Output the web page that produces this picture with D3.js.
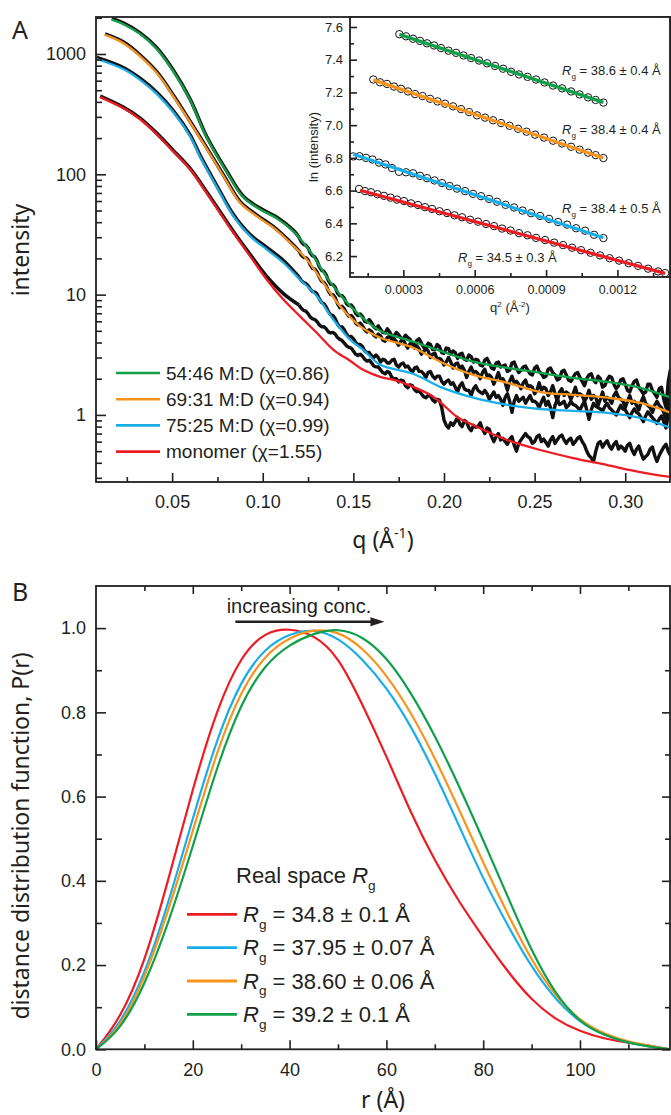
<!DOCTYPE html>
<html>
<head>
<meta charset="utf-8">
<script src="https://cdn.jsdelivr.net/npm/d3@7"></script>
<style>
  body { margin: 0; background: #fff; }
</style>
</head>
<body>
<svg id="fig" width="671" height="1115"></svg>
<script>
// ---------- panel A : scattering profiles, q (1/Å) vs intensity ----------
var legendA = ["54:46 M:D (\u03c7=0.86)", "69:31 M:D (\u03c7=0.94)", "75:25 M:D (\u03c7=0.99)", "monomer (\u03c7=1.55)"];

// fitted curves
var fitQGreen = [0.0167, 0.0230, 0.0323, 0.0416, 0.0506, 0.0599, 0.0692, 0.0802, 0.0893, 0.0986, 0.1078, 0.1169, 0.1262, 0.1354, 0.1445, 0.1538, 0.1648, 0.1830, 0.1979, 0.2161, 0.2349, 0.2531, 0.2713, 0.2901, 0.3083, 0.3254];
var fitIGreen = [1931, 1778, 1468, 1101, 721, 414, 200, 104, 64.3, 51.1, 43.0, 33.5, 22.8, 13.9, 9.26, 6.68, 5.01, 4.06, 3.41, 2.77, 2.46, 2.24, 2.03, 1.88, 1.68, 1.39];
var fitQOrange = [0.0130, 0.0230, 0.0323, 0.0416, 0.0506, 0.0599, 0.0692, 0.0783, 0.0875, 0.0967, 0.1059, 0.1151, 0.1243, 0.1335, 0.1427, 0.1538, 0.1648, 0.1830, 0.1979, 0.2161, 0.2349, 0.2531, 0.2713, 0.2901, 0.3083, 0.3254];
var fitIOrange = [1440, 1235, 962, 695, 447, 271, 162, 96.8, 58.1, 44.9, 36.0, 27.0, 19.6, 12.5, 7.99, 5.44, 4.38, 3.62, 2.77, 2.15, 1.85, 1.55, 1.47, 1.39, 1.26, 1.04];
var fitQBlue = [0.0084, 0.0230, 0.0323, 0.0416, 0.0506, 0.0599, 0.0655, 0.0747, 0.0838, 0.0930, 0.1023, 0.1114, 0.1206, 0.1299, 0.1390, 0.1482, 0.1554, 0.1648, 0.1830, 0.1979, 0.2161, 0.2349, 0.2531, 0.2713, 0.2901, 0.3083, 0.3254];
var fitIBlue = [909, 750, 610, 464, 329, 207, 139, 77.9, 44.9, 30.6, 23.7, 18.4, 13.3, 9.68, 6.19, 4.22, 3.48, 2.61, 2.20, 1.71, 1.39, 1.21, 1.12, 1.08, 1.04, 0.944, 0.779];
var fitQRed = [0.0103, 0.0230, 0.0323, 0.0416, 0.0506, 0.0599, 0.0692, 0.0838, 0.0930, 0.1023, 0.1114, 0.1206, 0.1299, 0.1390, 0.1482, 0.1554, 0.1648, 0.1742, 0.1830, 0.1924, 0.1979, 0.2073, 0.2161, 0.2255, 0.2349, 0.2531, 0.2713, 0.2901, 0.3083, 0.3254];
var fitIRed = [438, 355, 287, 215, 155, 110, 69.5, 32.7, 20.9, 13.3, 9.09, 6.59, 4.80, 3.48, 2.82, 2.37, 2.07, 1.92, 1.71, 1.47, 1.28, 0.962, 0.825, 0.708, 0.619, 0.511, 0.438, 0.383, 0.335, 0.304];

// measured data, smooth low-q part
var lowQGreen = [0.0167, 0.0230, 0.0323, 0.0416, 0.0506, 0.0599, 0.0692, 0.0802, 0.0893, 0.0986, 0.1078, 0.1169];
var lowIGreen = [1970, 1814, 1497, 1123, 735, 422, 204, 106, 65.6, 52.1, 43.9, 34.2];
var lowQOrange = [0.0130, 0.0230, 0.0323, 0.0416, 0.0506, 0.0599, 0.0692, 0.0783, 0.0875, 0.0967, 0.1059, 0.1151];
var lowIOrange = [1469, 1260, 981, 709, 456, 276, 165, 98.7, 59.3, 45.8, 36.7, 27.5];
var lowQBlue = [0.0084, 0.0230, 0.0323, 0.0416, 0.0506, 0.0599, 0.0655, 0.0747, 0.0838, 0.0930, 0.1023, 0.1114];
var lowIBlue = [936, 772, 628, 478, 339, 213, 143, 80.2, 46.2, 31.5, 24.6, 19.2];
var lowQRed = [0.0103, 0.0230, 0.0323, 0.0416, 0.0506, 0.0599, 0.0692, 0.0838, 0.0930, 0.1023, 0.1114];
var lowIRed = [447, 362, 293, 219, 158, 112, 71, 33.5, 21.6, 14.1, 10.2];

// measured data, noisy high-q part: main samples ...
var noisyQ = [0.1200, 0.1225, 0.1250, 0.1275, 0.1300, 0.1325, 0.1350, 0.1375, 0.1400, 0.1425,
  0.1450, 0.1475, 0.1500, 0.1525, 0.1550, 0.1575, 0.1600, 0.1625, 0.1650, 0.1675,
  0.1700, 0.1725, 0.1750, 0.1775, 0.1800, 0.1825, 0.1850, 0.1875, 0.1900, 0.1925,
  0.1950, 0.1975, 0.2000, 0.2025, 0.2050, 0.2075, 0.2100, 0.2125, 0.2150, 0.2175,
  0.2200, 0.2225, 0.2250, 0.2275, 0.2300, 0.2325, 0.2350, 0.2375, 0.2400, 0.2425,
  0.2450, 0.2475, 0.2500, 0.2525, 0.2550, 0.2575, 0.2600, 0.2625, 0.2650, 0.2675,
  0.2700, 0.2725, 0.2750, 0.2775, 0.2800, 0.2825, 0.2850, 0.2875, 0.2900, 0.2925,
  0.2950, 0.2975, 0.3000, 0.3025, 0.3050, 0.3075, 0.3100, 0.3125, 0.3150, 0.3175,
  0.3200, 0.3225, 0.3250];
var noisyGreen = [30.0, 26.2, 24.5, 21.0, 19.1, 15.9, 14.6, 12.2, 11.5, 9.8,
  9.3, 8.1, 7.8, 6.7, 6.6, 5.9, 5.85, 5.2, 5.15, 4.8,
  4.9, 4.55, 4.65, 4.3, 4.4, 3.9, 4.15, 3.95, 3.6, 3.85,
  3.5, 3.7, 3.25, 3.55, 3.4, 2.95, 3.25, 2.85, 3.05, 2.9,
  2.6, 2.85, 2.7, 2.4, 2.75, 2.55, 2.3, 2.7, 2.45, 2.35,
  2.55, 2.2, 2.45, 2.3, 2.05, 2.4, 2.25, 1.95, 2.3, 2.15,
  1.9, 2.2, 2.05, 1.75, 2.15, 1.95, 2.1, 1.7, 1.95, 2.05,
  1.65, 1.95, 1.8, 1.55, 1.9, 1.7, 1.5, 1.8, 1.6, 1.4,
  1.7, 1.15, 2.4];
var noisyOrange = [23.1, 20.4, 19.5, 16.5, 15.4, 12.9, 11.9, 10.0, 9.4, 7.8,
  7.6, 6.6, 6.4, 5.6, 5.5, 4.9, 4.95, 4.45, 4.55, 4.1,
  4.5, 4.3, 3.8, 4.25, 3.6, 3.95, 3.75, 3.2, 3.6, 3.0,
  3.25, 2.95, 2.6, 3.0, 2.45, 2.7, 2.55, 2.05, 2.5, 2.3,
  2.0, 2.4, 2.15, 1.8, 2.25, 2.0, 1.6, 2.1, 1.9, 1.65,
  1.95, 1.75, 1.5, 1.85, 1.7, 1.45, 1.75, 1.3, 1.65, 1.55,
  1.35, 1.7, 1.5, 1.3, 1.6, 1.45, 1.2, 1.55, 1.4, 1.25,
  1.55, 1.35, 1.15, 1.45, 1.3, 1.1, 1.42, 1.2, 1.05, 1.3,
  1.15, 0.92, 1.7];
var noisyBlue = [14.0, 12.6, 11.9, 10.6, 10.1, 8.6, 7.9, 6.8, 6.3, 5.35,
  5.1, 4.45, 4.3, 3.85, 3.7, 3.3, 3.1, 3.15, 2.75, 2.85,
  2.7, 2.9, 2.5, 2.7, 2.55, 2.25, 2.5, 2.3, 2.05, 2.3,
  2.0, 2.1, 1.8, 1.95, 1.85, 1.55, 1.85, 1.6, 1.45, 1.75,
  1.55, 1.6, 1.35, 1.55, 1.45, 1.2, 1.5, 1.05, 1.45, 1.35,
  1.25, 1.45, 1.3, 1.15, 1.4, 1.3, 0.95, 1.35, 1.25, 1.15,
  1.3, 1.2, 1.1, 1.3, 0.92, 1.25, 1.15, 1.08, 1.25, 1.1,
  1.0, 1.2, 1.1, 0.95, 1.12, 1.02, 0.88, 1.06, 0.95, 0.85,
  0.98, 0.78, 1.35];
var noisyRed = [8.2, 7.4, 6.95, 6.3, 5.95, 5.4, 5.2, 4.8, 4.7, 4.25,
  3.95, 3.65, 3.4, 3.12, 3.08, 2.8, 2.71, 2.51, 2.37, 2.20,
  2.24, 2.00, 1.88, 1.92, 1.68, 1.75, 1.56, 1.50, 1.39, 1.44,
  1.28, 1.33, 0.909, 0.78, 0.82, 0.95, 0.8, 0.87, 0.74, 0.79,
  0.86, 0.7, 0.76, 0.6, 0.7, 0.64, 0.57, 0.66, 0.5, 0.62,
  0.7, 0.64, 0.6, 0.68, 0.63, 0.55, 0.66, 0.62, 0.68, 0.58,
  0.64, 0.6, 0.66, 0.56, 0.46, 0.41, 0.58, 0.54, 0.61, 0.52,
  0.6, 0.55, 0.5, 0.58, 0.47, 0.55, 0.43, 0.47, 0.54, 0.41,
  0.5, 0.57, 0.46];
// ... and the samples lying between them
var noisyQMid = [0.12125, 0.12375, 0.12625, 0.12875, 0.13125, 0.13375, 0.13625, 0.13875, 0.14125, 0.14375,
  0.14625, 0.14875, 0.15125, 0.15375, 0.15625, 0.15875, 0.16125, 0.16375, 0.16625, 0.16875,
  0.17125, 0.17375, 0.17625, 0.17875, 0.18125, 0.18375, 0.18625, 0.18875, 0.19125, 0.19375,
  0.19625, 0.19875, 0.20125, 0.20375, 0.20625, 0.20875, 0.21125, 0.21375, 0.21625, 0.21875,
  0.22125, 0.22375, 0.22625, 0.22875, 0.23125, 0.23375, 0.23625, 0.23875, 0.24125, 0.24375,
  0.24625, 0.24875, 0.25125, 0.25375, 0.25625, 0.25875, 0.26125, 0.26375, 0.26625, 0.26875,
  0.27125, 0.27375, 0.27625, 0.27875, 0.28125, 0.28375, 0.28625, 0.28875, 0.29125, 0.29375,
  0.29625, 0.29875, 0.30125, 0.30375, 0.30625, 0.30875, 0.31125, 0.31375, 0.31625, 0.31875,
  0.32125, 0.32375];
var midGreen = [27.5, 25.8, 22.2, 20.5, 17.0, 15.6, 13.0, 12.1, 10.3, 9.8,
  8.4, 8.2, 7.0, 6.9, 6.0, 6.2, 5.4, 5.5, 4.85, 5.2,
  4.5, 4.85, 4.35, 4.6, 4.25, 3.8, 4.3, 3.65, 3.95, 3.5,
  3.85, 3.3, 3.6, 3.2, 3.3, 3.2, 2.9, 3.15, 2.75, 2.85,
  2.55, 2.95, 2.45, 2.7, 2.5, 2.6, 2.35, 2.75, 2.25, 2.5,
  2.35, 2.15, 2.55, 2.2, 2.1, 2.45, 2.15, 2.0, 2.35, 1.95,
  2.05, 2.25, 1.9, 2.0, 2.2, 1.85, 2.0, 1.75, 2.1, 1.8,
  1.75, 2.0, 1.6, 1.75, 1.95, 1.6, 1.55, 1.8, 1.5, 1.65,
  1.35, 1.9];
var midOrange = [21.3, 20.3, 17.6, 16.3, 13.9, 12.6, 10.7, 10.0, 8.4, 8.0,
  7.0, 6.7, 5.8, 5.8, 5.1, 5.1, 4.6, 4.7, 4.2, 4.4,
  4.2, 4.05, 4.1, 3.85, 3.9, 3.6, 3.55, 3.35, 3.4, 3.2,
  2.9, 2.85, 2.75, 2.75, 2.65, 2.4, 2.35, 2.3, 2.25, 2.2,
  2.25, 2.1, 2.05, 2.0, 1.95, 1.85, 1.9, 1.85, 1.8, 1.85,
  1.7, 1.7, 1.6, 1.6, 1.65, 1.55, 1.5, 1.55, 1.45, 1.5,
  1.5, 1.45, 1.45, 1.4, 1.35, 1.4, 1.35, 1.3, 1.35, 1.45,
  1.4, 1.3, 1.3, 1.25, 1.2, 1.28, 1.25, 1.15, 1.2, 1.2,
  1.05, 1.25];
var midBlue = [13.1, 12.4, 11.1, 10.5, 9.2, 8.4, 7.2, 6.7, 5.7, 5.4,
  4.7, 4.5, 4.0, 3.85, 3.4, 3.3, 3.0, 3.0, 2.9, 2.7,
  2.85, 2.6, 2.65, 2.5, 2.4, 2.45, 2.3, 2.2, 2.25, 2.1,
  2.1, 1.9, 1.9, 1.8, 1.7, 1.75, 1.65, 1.6, 1.65, 1.6,
  1.5, 1.5, 1.45, 1.4, 1.35, 1.4, 1.3, 1.3, 1.3, 1.4,
  1.35, 1.3, 1.25, 1.28, 1.2, 1.15, 1.2, 1.22, 1.3, 1.2,
  1.22, 1.15, 1.2, 1.1, 1.1, 1.18, 1.12, 1.18, 1.15, 1.05,
  1.1, 1.12, 1.02, 1.05, 1.05, 0.95, 0.98, 1.0, 0.9, 0.92,
  0.88, 1.0];
var midRed = [7.7, 7.3, 6.5, 6.2, 5.6, 5.4, 4.9, 4.85, 4.4, 4.15,
  3.75, 3.6, 3.2, 3.2, 2.9, 2.85, 2.55, 2.5, 2.25, 2.3,
  2.05, 2.0, 1.95, 1.75, 1.78, 1.62, 1.58, 1.42, 1.45, 1.33,
  1.35, 1.15, 0.82, 0.86, 0.88, 0.84, 0.9, 0.78, 0.82, 0.8,
  0.76, 0.78, 0.66, 0.66, 0.62, 0.6, 0.63, 0.56, 0.58, 0.66,
  0.66, 0.58, 0.66, 0.6, 0.59, 0.62, 0.58, 0.66, 0.62, 0.62,
  0.57, 0.64, 0.6, 0.5, 0.44, 0.5, 0.6, 0.58, 0.55, 0.57,
  0.52, 0.53, 0.56, 0.51, 0.52, 0.48, 0.45, 0.52, 0.46, 0.46,
  0.54, 0.5];

// ---------- inset : Guinier plots, q^2 vs ln(intensity) ----------
var insetQ2Green = [0.000283, 0.0003112, 0.0003407, 0.0003701, 0.0003995, 0.000429, 0.0004584, 0.0004899, 0.0005215, 0.000553, 0.0005846, 0.0006182, 0.0006519, 0.0006855, 0.0007192, 0.0007528, 0.0007864, 0.0008222, 0.0008579, 0.0008937, 0.0009294, 0.0009673, 0.0010051, 0.0010409, 0.0010766, 0.0011082, 0.001141];
var insetLnGreen = [7.556, 7.543, 7.528, 7.515, 7.500, 7.487, 7.471, 7.455, 7.442, 7.426, 7.410, 7.395, 7.378, 7.362, 7.345, 7.326, 7.310, 7.295, 7.279, 7.261, 7.242, 7.225, 7.206, 7.188, 7.170, 7.154, 7.138];
var insetQ2Orange = [0.0001737, 0.0002019, 0.0002313, 0.0002607, 0.0002902, 0.0003196, 0.0003491, 0.0003806, 0.0004122, 0.0004437, 0.0004752, 0.0005089, 0.0005425, 0.0005762, 0.0006098, 0.0006434, 0.0006771, 0.0007107, 0.0007465, 0.0007822, 0.000818, 0.0008537, 0.0008916, 0.0009294, 0.0009673, 0.0010051, 0.0010409, 0.0010766, 0.0011082, 0.001141];
var insetLnOrange = [7.279, 7.262, 7.252, 7.236, 7.222, 7.206, 7.190, 7.178, 7.161, 7.145, 7.131, 7.115, 7.098, 7.080, 7.060, 7.046, 7.030, 7.013, 6.996, 6.978, 6.960, 6.942, 6.924, 6.905, 6.888, 6.868, 6.850, 6.832, 6.817, 6.799];
var insetQ2Blue = [0.0000896, 0.0001157, 0.000143, 0.0001703, 0.0001977, 0.000225, 0.0002523, 0.0002818, 0.0003112, 0.0003407, 0.0003701, 0.0003995, 0.0004311, 0.0004626, 0.0004942, 0.0005257, 0.0005594, 0.000593, 0.0006266, 0.0006603, 0.0006939, 0.0007297, 0.0007654, 0.0008012, 0.0008369, 0.0008748, 0.0009126, 0.0009505, 0.0009883, 0.0010262, 0.001064, 0.0011019, 0.001141];
var insetLnBlue = [6.809, 6.810, 6.800, 6.790, 6.771, 6.760, 6.738, 6.715, 6.712, 6.706, 6.690, 6.676, 6.662, 6.646, 6.628, 6.612, 6.597, 6.580, 6.566, 6.549, 6.532, 6.513, 6.497, 6.478, 6.462, 6.445, 6.427, 6.408, 6.392, 6.370, 6.355, 6.330, 6.310];
var insetQ2Red = [0.0001136, 0.0001388, 0.000164, 0.0001914, 0.0002187, 0.000246, 0.0002734, 0.0003028, 0.0003322, 0.0003617, 0.0003911, 0.0004205, 0.0004521, 0.0004836, 0.0005152, 0.0005467, 0.0005804, 0.000614, 0.0006477, 0.0006813, 0.000715, 0.0007507, 0.0007864, 0.0008222, 0.000858, 0.0008958, 0.0009337, 0.0009715, 0.0010093, 0.0010472, 0.0010871, 0.0011271, 0.001167, 0.001207, 0.001247, 0.001287, 0.001329, 0.001371, 0.0014005];
var insetLnRed = [6.610, 6.597, 6.590, 6.578, 6.568, 6.557, 6.545, 6.536, 6.522, 6.512, 6.499, 6.488, 6.474, 6.463, 6.449, 6.437, 6.422, 6.410, 6.396, 6.383, 6.368, 6.356, 6.340, 6.327, 6.311, 6.298, 6.282, 6.267, 6.251, 6.236, 6.220, 6.204, 6.187, 6.172, 6.156, 6.140, 6.123, 6.106, 6.096];
// straight Guinier fits (end points)
var guinierQ2Green = [0.000283, 0.001141], guinierLnGreen = [7.555, 7.139];
var guinierQ2Orange = [0.0001737, 0.001141], guinierLnOrange = [7.277, 6.799];
var guinierQ2Blue = [0.0000896, 0.001141], guinierLnBlue = [6.822, 6.312];
var guinierQ2Red = [0.0001178, 0.0014005], guinierLnRed = [6.602, 6.094];
var insetLabels = ["38.6 \u00b1 0.4 \u00c5", "38.4 \u00b1 0.4 \u00c5", "38.4 \u00b1 0.5 \u00c5", "34.5 \u00b1 0.3 \u00c5"];

// ---------- panel B : pair distance distributions ----------
var rVals = [0, 5, 10, 15, 20, 25, 30, 35, 40, 45, 50, 55, 60, 65, 70, 75, 80, 85, 90, 95, 100, 105, 110, 115, 118.5];
var prRed = [0, 0.072, 0.203, 0.404, 0.62, 0.81, 0.936, 0.992, 1.0, 0.985, 0.935, 0.82, 0.697, 0.562, 0.447, 0.35, 0.266, 0.185, 0.116, 0.07, 0.042, 0.025, 0.015, 0.008, 0];
var prBlue = [0, 0.058, 0.175, 0.348, 0.549, 0.74, 0.878, 0.954, 0.987, 0.999, 0.978, 0.928, 0.86, 0.77, 0.657, 0.531, 0.404, 0.295, 0.194, 0.117, 0.063, 0.033, 0.015, 0.006, 0];
var prOrange = [0, 0.05, 0.165, 0.33, 0.518, 0.71, 0.853, 0.938, 0.978, 0.998, 0.993, 0.955, 0.89, 0.802, 0.693, 0.57, 0.443, 0.322, 0.21, 0.125, 0.067, 0.036, 0.018, 0.007, 0];
var prGreen = [0, 0.045, 0.15, 0.3, 0.481, 0.672, 0.824, 0.915, 0.962, 0.988, 1.0, 0.982, 0.932, 0.849, 0.746, 0.626, 0.497, 0.364, 0.232, 0.129, 0.063, 0.033, 0.015, 0.005, 0];
var legendB = ["34.8 \u00b1 0.1 \u00c5", "37.95 \u00b1 0.07 \u00c5", "38.60 \u00b1 0.06 \u00c5", "39.2 \u00b1 0.1 \u00c5"];

// ---------- drawing ----------
var ink = "#231f20";
var colGreen = "#10a04a", colOrange = "#f7941d", colBlue = "#1aaee8", colRed = "#ec1c24";
var numFont = "'Liberation Sans', Arial, Helvetica, sans-serif";
var wordFont = "'Noto Sans', 'Open Sans', sans-serif";

var svg = d3.select("#fig");

function zip(xs, ys) { return xs.map(function(x, i) { return [x, ys[i]]; }); }

// main samples interleaved with the in-between samples
function interleave(qa, va, qb, vb) {
  var out = [];
  qa.forEach(function(q, i) {
    out.push([q, va[i]]);
    if (i < qb.length) out.push([qb[i], vb[i]]);
  });
  return out;
}

function axis(maker, scale, at, values, size, fmt, pad, fontSize) {
  var a = maker(scale).tickValues(values).tickSize(-size).tickPadding(pad || 0)
      .tickFormat(fmt || function() { return ""; });
  var vertical = (maker === d3.axisLeft || maker === d3.axisRight);
  var g = svg.append("g")
      .attr("transform", vertical ? "translate(" + at + ",0)" : "translate(0," + at + ")")
      .call(a);
  // the axis sets its own font on call, so override afterwards
  g.attr("font-family", numFont).attr("font-size", fontSize || 18);
  g.select(".domain").remove();
  g.selectAll(".tick line").attr("stroke", ink).attr("stroke-width", 1.6);
  g.selectAll(".tick text").attr("fill", ink);
  return g;
}

// text with italic / sub / superscript pieces
function rich(x, y, parts, size, family, anchor, transform) {
  var t = svg.append("text").attr("x", x).attr("y", y)
      .attr("font-size", size).attr("font-family", family).attr("fill", ink);
  if (anchor) t.attr("text-anchor", anchor);
  if (transform) t.attr("transform", transform);
  var shift = 0;
  parts.forEach(function(p) {
    var want = p.sub ? size * 0.3 : (p.sup ? -size * 0.42 : 0);
    var s = t.append("tspan").text(p.t).attr("dy", want - shift);
    shift = want;
    if (p.sub || p.sup) s.attr("font-size", size * 0.62);
    if (p.italic) s.attr("font-style", "italic");
  });
  return t;
}

// ===== panel A =====
var xA = d3.scaleLinear().domain([0.008, 0.3247]).range([96, 670]);
var yA = d3.scaleLog().domain([0.277, 2030]).range([482, 17]);

svg.append("clipPath").attr("id", "clipA").append("rect")
  .attr("x", 96).attr("y", 17).attr("width", 574).attr("height", 465);

var smoothA = d3.line().curve(d3.curveCatmullRom.alpha(0.5))
  .x(function(d) { return xA(d[0]); }).y(function(d) { return yA(d[1]); });
var rawA = d3.line().x(function(d) { return xA(d[0]); }).y(function(d) { return yA(d[1]); });

var plotA = svg.append("g").attr("clip-path", "url(#clipA)");
var measured = [
  { low: zip(lowQGreen, lowIGreen), hi: interleave(noisyQ, noisyGreen, noisyQMid, midGreen) },
  { low: zip(lowQOrange, lowIOrange), hi: interleave(noisyQ, noisyOrange, noisyQMid, midOrange) },
  { low: zip(lowQBlue, lowIBlue), hi: interleave(noisyQ, noisyBlue, noisyQMid, midBlue) },
  { low: zip(lowQRed, lowIRed), hi: interleave(noisyQ, noisyRed, noisyQMid, midRed) }
];
measured.forEach(function(m) {
  // smooth part joins onto the first noisy sample, noisy part drawn point to point
  plotA.append("path").attr("d", smoothA(m.low.concat([m.hi[0]])))
    .attr("fill", "none").attr("stroke", "#111").attr("stroke-width", 3.6);
  plotA.append("path").attr("d", rawA(m.hi))
    .attr("fill", "none").attr("stroke", "#111").attr("stroke-width", 3.4)
    .attr("stroke-linejoin", "round");
});

var fits = [
  { pts: zip(fitQGreen, fitIGreen), c: colGreen },
  { pts: zip(fitQOrange, fitIOrange), c: colOrange },
  { pts: zip(fitQBlue, fitIBlue), c: colBlue },
  { pts: zip(fitQRed, fitIRed), c: colRed }
];
plotA.selectAll("path.fit").data(fits).join("path")
  .attr("class", "fit").attr("d", function(d) { return smoothA(d.pts); })
  .attr("fill", "none").attr("stroke", function(d) { return d.c; }).attr("stroke-width", 2.3);

svg.append("rect").attr("x", 96).attr("y", 17).attr("width", 574).attr("height", 465)
  .attr("fill", "none").attr("stroke", ink).attr("stroke-width", 1.8);

var minorLog = [];
[0.1, 1, 10, 100, 1000].forEach(function(dec) {
  for (var m = 2; m <= 9; m++) {
    var v = dec * m;
    if (v > 0.277 && v < 2030) minorLog.push(v);
  }
});
axis(d3.axisLeft, yA, 96, [1, 10, 100, 1000], 10, function(d) { return String(d); }, 10, 18);
axis(d3.axisLeft, yA, 96, minorLog, 6);
axis(d3.axisBottom, xA, 482, [0.05, 0.10, 0.15, 0.20, 0.25, 0.30], 9, d3.format(".2f"), 13, 18);
axis(d3.axisBottom, xA, 482, [0.025, 0.075, 0.125, 0.175, 0.225, 0.275], 5);

svg.append("text").attr("x", 12).attr("y", 39).text("A")
  .attr("font-family", wordFont).attr("font-size", 25).attr("fill", ink);
svg.append("text").attr("transform", "translate(29,250) rotate(-90)")
  .attr("text-anchor", "middle").text("intensity")
  .attr("font-family", wordFont).attr("font-size", 23).attr("fill", ink);
rich(383, 548, [{ t: "q (\u00c5" }, { t: "-1", sup: true }, { t: ")" }], 23, wordFont, "middle");

// legend A
var legColors = [colGreen, colOrange, colBlue, colRed];
legendA.forEach(function(name, i) {
  var y = 373 + i * 26.2;
  svg.append("line").attr("x1", 116).attr("x2", 160).attr("y1", y).attr("y2", y)
    .attr("stroke", legColors[i]).attr("stroke-width", 2.6);
  svg.append("text").attr("x", 166).attr("y", y + 6.8).text(name)
    .attr("font-family", numFont).attr("font-size", 19).attr("fill", ink);
});

// ===== inset =====
var xI = d3.scaleLinear().domain([0.0000757, 0.001421]).range([350, 670]);
var yI = d3.scaleLinear().domain([6.072, 7.661]).range([277, 17]);

svg.append("rect").attr("x", 350).attr("y", 17).attr("width", 320).attr("height", 260).attr("fill", "#fff");

var insetPts = [
  { pts: zip(insetQ2Green, insetLnGreen), fit: zip(guinierQ2Green, guinierLnGreen), c: colGreen },
  { pts: zip(insetQ2Orange, insetLnOrange), fit: zip(guinierQ2Orange, guinierLnOrange), c: colOrange },
  { pts: zip(insetQ2Blue, insetLnBlue), fit: zip(guinierQ2Blue, guinierLnBlue), c: colBlue },
  { pts: zip(insetQ2Red, insetLnRed), fit: zip(guinierQ2Red, guinierLnRed), c: colRed }
];
var insetG = svg.append("g");
insetPts.forEach(function(s) {
  insetG.append("g").selectAll("circle").data(s.pts).join("circle")
    .attr("cx", function(d) { return xI(d[0]); }).attr("cy", function(d) { return yI(d[1]); })
    .attr("r", 3.7).attr("fill", "#fff").attr("stroke", "#111").attr("stroke-width", 1);
});
var gLine = d3.line().x(function(d) { return xI(d[0]); }).y(function(d) { return yI(d[1]); });
insetPts.forEach(function(s) {
  insetG.append("path").attr("d", gLine(s.fit)).attr("fill", "none")
    .attr("stroke", s.c).attr("stroke-width", 3.3);
});
svg.append("rect").attr("x", 350).attr("y", 17).attr("width", 320).attr("height", 260)
  .attr("fill", "none").attr("stroke", ink).attr("stroke-width", 1.8);

axis(d3.axisLeft, yI, 350, [6.2, 6.4, 6.6, 6.8, 7.0, 7.2, 7.4, 7.6], 7, d3.format(".1f"), 7, 13);
axis(d3.axisLeft, yI, 350, [6.1, 6.3, 6.5, 6.7, 6.9, 7.1, 7.3, 7.5], 4);
axis(d3.axisBottom, xI, 277, [0.0003, 0.0006, 0.0009, 0.0012], 7, function(d) { return d.toFixed(4); }, 8, 12.5);
axis(d3.axisBottom, xI, 277, [0.00015, 0.00045, 0.00075, 0.00105, 0.00135], 4);

svg.append("text").attr("transform", "translate(318,147) rotate(-90)")
  .attr("text-anchor", "middle").text("ln (intensity)")
  .attr("font-family", numFont).attr("font-size", 13).attr("fill", ink);
rich(510, 312, [{ t: "q" }, { t: "2", sup: true }, { t: " (\u00c5" }, { t: "-2", sup: true }, { t: ")" }], 13, numFont, "middle");

var insetLabelPos = [[562, 75], [562, 134], [562, 213], [458, 262]];
insetLabels.forEach(function(lab, i) {
  rich(insetLabelPos[i][0], insetLabelPos[i][1],
    [{ t: "R", italic: true }, { t: "g", sub: true }, { t: " = " + lab }], 13, numFont);
});

// ===== panel B =====
var xB = d3.scaleLinear().domain([0, 118.6]).range([96, 670]);
var yB = d3.scaleLinear().domain([0, 1.1]).range([1049.3, 586]);
var prLine = d3.line().curve(d3.curveBasis)
  .x(function(d) { return xB(d[0]); }).y(function(d) { return yB(d[1]); });

var prSets = [
  { pts: zip(rVals, prRed), c: colRed },
  { pts: zip(rVals, prBlue), c: colBlue },
  { pts: zip(rVals, prOrange), c: colOrange },
  { pts: zip(rVals, prGreen), c: colGreen }
];
svg.append("g").selectAll("path").data(prSets).join("path")
  .attr("d", function(d) { return prLine(d.pts); })
  .attr("fill", "none").attr("stroke", function(d) { return d.c; }).attr("stroke-width", 2.2);

svg.append("rect").attr("x", 96).attr("y", 586).attr("width", 574).attr("height", 463.3)
  .attr("fill", "none").attr("stroke", ink).attr("stroke-width", 1.8);

var rMajor = [0, 20, 40, 60, 80, 100], rMinor = [10, 30, 50, 70, 90, 110];
var pMajor = [0, 0.2, 0.4, 0.6, 0.8, 1.0], pMinor = [0.1, 0.3, 0.5, 0.7, 0.9];
axis(d3.axisBottom, xB, 1049.3, rMajor, 9, function(d) { return String(d); }, 14, 18);
axis(d3.axisBottom, xB, 1049.3, rMinor, 5);
axis(d3.axisTop, xB, 586, rMajor.slice(1), 8);
axis(d3.axisTop, xB, 586, rMinor, 5);
axis(d3.axisLeft, yB, 96, pMajor, 10, d3.format(".1f"), 10, 18);
axis(d3.axisLeft, yB, 96, pMinor, 6);
axis(d3.axisRight, yB, 670, pMajor, 8);
axis(d3.axisRight, yB, 670, pMinor, 5);

// concentration arrow
var ay = yB(1.015);
svg.append("line").attr("x1", xB(28.8)).attr("x2", xB(57.2)).attr("y1", ay).attr("y2", ay)
  .attr("stroke", ink).attr("stroke-width", 2.4);
svg.append("path")
  .attr("d", "M" + xB(59.6) + "," + ay + "L" + (xB(59.6) - 14) + "," + (ay - 4.5) + "L" + (xB(59.6) - 14) + "," + (ay + 4.5) + "Z")
  .attr("fill", ink);
svg.append("text").attr("x", xB(27.0)).attr("y", yB(1.036)).text("increasing conc.")
  .attr("font-family", numFont).attr("font-size", 20).attr("fill", ink);

svg.append("text").attr("x", 12).attr("y", 601).text("B")
  .attr("font-family", wordFont).attr("font-size", 25).attr("fill", ink);
svg.append("text").attr("transform", "translate(29,836) rotate(-90)")
  .attr("text-anchor", "middle").text("distance distribution function, P(r)")
  .attr("font-family", wordFont).attr("font-size", 23).attr("fill", ink);
svg.append("text").attr("x", 383).attr("y", 1108).attr("text-anchor", "middle").text("r (\u00c5)")
  .attr("font-family", wordFont).attr("font-size", 23).attr("fill", ink);

// legend B
rich(236, 883, [{ t: "Real space " }, { t: "R", italic: true }, { t: "g", sub: true }], 22, numFont);
var legBColors = [colRed, colBlue, colOrange, colGreen];
legendB.forEach(function(lab, i) {
  var y = 914.3 + i * 33.35;
  svg.append("line").attr("x1", 187).attr("x2", 237).attr("y1", y).attr("y2", y)
    .attr("stroke", legBColors[i]).attr("stroke-width", 2.8);
  rich(243, y + 7.6, [{ t: "R", italic: true }, { t: "g", sub: true }, { t: " = " + lab }], 22, numFont);
});
</script>
</body>
</html>
